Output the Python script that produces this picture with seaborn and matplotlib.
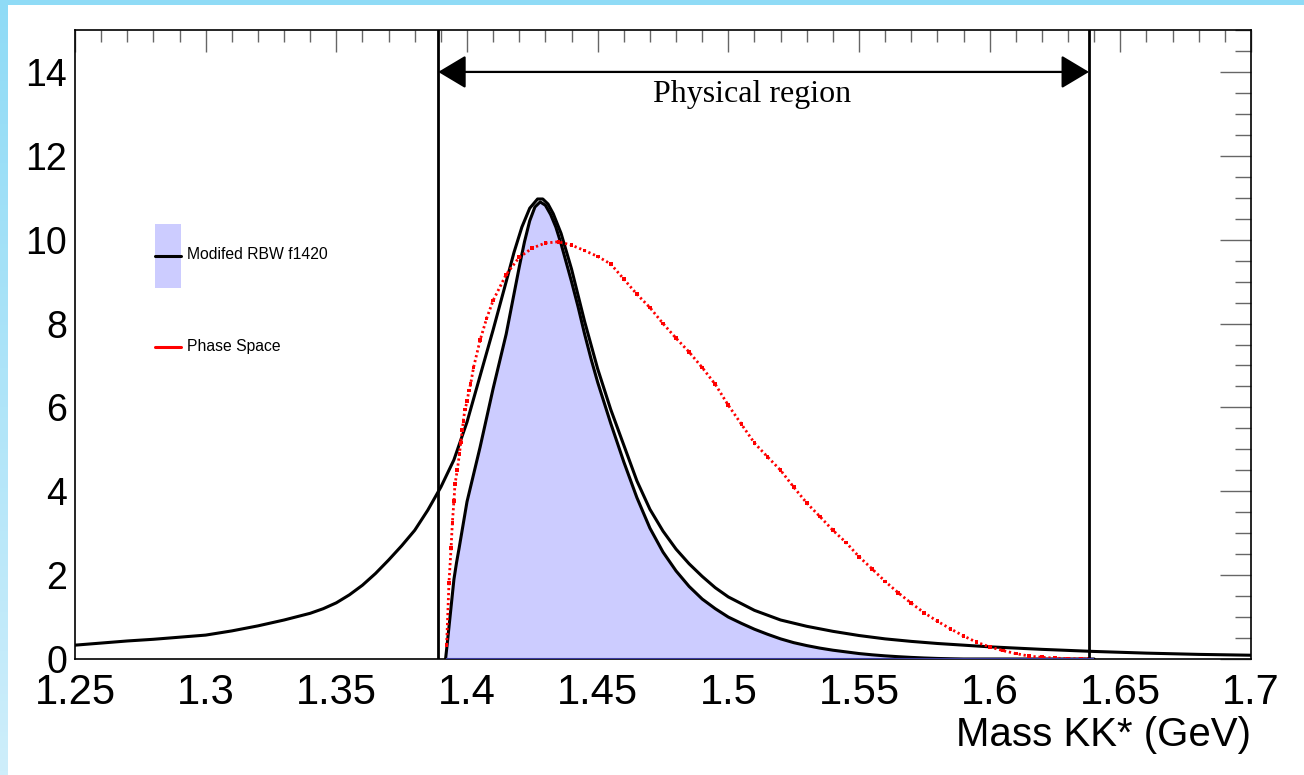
import numpy as np
import pandas as pd
import matplotlib
matplotlib.use("Agg")
import matplotlib.pyplot as plt
import seaborn as sns
from matplotlib.patches import Patch, Rectangle
from matplotlib.lines import Line2D
from matplotlib.legend_handler import HandlerTuple, HandlerLine2D
from matplotlib.ticker import MultipleLocator, FixedLocator

# full relativistic BW curve (whole mass range)
full_mass = [1.25, 1.26, 1.27, 1.28, 1.29, 1.30, 1.31, 1.32, 1.33, 1.34, 1.345, 1.35,
             1.355, 1.36, 1.365, 1.37, 1.375, 1.38, 1.385, 1.39, 1.395, 1.40, 1.405,
             1.41, 1.415, 1.418, 1.421, 1.424, 1.427, 1.429, 1.431, 1.433, 1.436,
             1.44, 1.445, 1.45, 1.455, 1.46, 1.465, 1.47, 1.475, 1.48, 1.485, 1.49,
             1.495, 1.50, 1.51, 1.52, 1.53, 1.54, 1.55, 1.56, 1.57, 1.58, 1.59,
             1.60, 1.62, 1.64, 1.66, 1.68, 1.70]
full_val = [0.33, 0.38, 0.43, 0.47, 0.52, 0.57, 0.67, 0.79, 0.93, 1.09, 1.20, 1.34,
            1.53, 1.76, 2.04, 2.36, 2.70, 3.07, 3.55, 4.10, 4.75, 5.65, 6.75,
            7.85, 9.00, 9.70, 10.30, 10.75, 10.97, 10.97, 10.85, 10.62, 10.15,
            9.30, 8.05, 6.92, 5.95, 5.10, 4.25, 3.57, 3.05, 2.62, 2.27, 1.97,
            1.70, 1.48, 1.16, 0.93, 0.78, 0.66, 0.56, 0.48, 0.42, 0.37, 0.33,
            0.29, 0.23, 0.18, 0.14, 0.11, 0.09]

# modified RBW f1420 (physical region only, shaded)
fit_mass = [1.3918, 1.3925, 1.393, 1.394, 1.395, 1.396, 1.397, 1.3985, 1.400, 1.4025,
            1.405, 1.4075, 1.410, 1.4125, 1.415, 1.4175, 1.420, 1.422, 1.424, 1.426,
            1.428, 1.430, 1.432, 1.434, 1.436, 1.438, 1.440, 1.4425, 1.445, 1.4475,
            1.450, 1.455, 1.460, 1.465, 1.470, 1.475, 1.480, 1.485, 1.490, 1.495,
            1.500, 1.505, 1.510, 1.515, 1.520, 1.525, 1.530, 1.535, 1.540, 1.545,
            1.550, 1.555, 1.560, 1.565, 1.570, 1.575, 1.580, 1.585, 1.590, 1.640]
fit_val = [0.0, 0.4, 0.7, 1.3, 1.9, 2.3, 2.65, 3.2, 3.75, 4.4,
           5.05, 5.75, 6.45, 7.1, 7.75, 8.55, 9.35, 9.95, 10.45, 10.78,
           10.9, 10.82, 10.6, 10.3, 9.9, 9.45, 9.0, 8.4, 7.75, 7.15,
           6.6, 5.62, 4.7, 3.85, 3.12, 2.55, 2.1, 1.73, 1.43, 1.2,
           1.0, 0.85, 0.71, 0.59, 0.48, 0.39, 0.32, 0.26, 0.21, 0.17,
           0.13, 0.10, 0.075, 0.055, 0.038, 0.024, 0.013, 0.006, 0.0, 0.0]

# phase space
ps_mass = [1.3922, 1.3931, 1.3939, 1.3944, 1.3950, 1.3954, 1.3963, 1.3971, 1.3976,
           1.3982, 1.3986, 1.3992, 1.4001, 1.4007, 1.4014, 1.4025, 1.405, 1.4075,
           1.410, 1.415, 1.420, 1.425, 1.430, 1.435, 1.440, 1.445, 1.450, 1.455,
           1.460, 1.465, 1.470, 1.475, 1.480, 1.485, 1.490, 1.495, 1.500, 1.505,
           1.510, 1.515, 1.520, 1.525, 1.530, 1.535, 1.540, 1.545, 1.550, 1.555,
           1.560, 1.565, 1.570, 1.575, 1.580, 1.585, 1.590, 1.595, 1.600, 1.605,
           1.610, 1.615, 1.620, 1.625, 1.630, 1.635, 1.638]
ps_val = [0.33, 1.82, 2.64, 3.25, 3.77, 4.17, 4.51, 4.89, 5.16,
          5.46, 5.68, 5.95, 6.15, 6.40, 6.56, 6.95, 7.60, 8.12,
          8.55, 9.17, 9.58, 9.80, 9.92, 9.95, 9.87, 9.74, 9.60, 9.42,
          9.06, 8.70, 8.38, 8.00, 7.65, 7.32, 6.95, 6.55, 6.05, 5.60,
          5.15, 4.82, 4.50, 4.10, 3.72, 3.40, 3.07, 2.78, 2.44, 2.15,
          1.85, 1.58, 1.33, 1.10, 0.90, 0.72, 0.55, 0.40, 0.29, 0.20,
          0.13, 0.07, 0.04, 0.02, 0.01, 0.005, 0.0]

phys_low, phys_high = 1.389, 1.638
x_ticks = [1.25, 1.3, 1.35, 1.4, 1.45, 1.5, 1.55, 1.6, 1.65, 1.7]
x_labels = ["1.25", "1.3", "1.35", "1.4", "1.45", "1.5", "1.55", "1.6", "1.65", "1.7"]
y_ticks = [0, 2, 4, 6, 8, 10, 12, 14]

sns.set_theme(style="white")
plt.rcParams['font.family'] = ['Liberation Sans', 'DejaVu Sans']
plt.rcParams['text.color'] = 'black'
plt.rcParams['axes.labelcolor'] = 'black'


class CenteredLine(HandlerLine2D):
    # put the legend line in the middle of a tall handle box
    def create_artists(self, legend, orig_handle, xdescent, ydescent,
                       width, height, fontsize, trans):
        arts = super().create_artists(legend, orig_handle, xdescent, ydescent,
                                      width, height, fontsize, trans)
        for a in arts:
            a.set_ydata(np.full(len(a.get_xdata()), height / 2 - ydescent))
        return arts


W, H = 1304, 775
fig = plt.figure(figsize=(W / 100, H / 100), dpi=100)
fig.patch.set_facecolor("white")

# light blue frame of the screenshot
bg = fig.add_axes([0, 0, 1, 1], zorder=-10)
bg.axis("off")
top_c = np.array([143, 219, 246]) / 255
bot_c = np.array([206, 238, 251]) / 255
t = np.linspace(0, 1, 200)[:, None]
grad = (top_c[None, :] * (1 - t) + bot_c[None, :] * t)[:, None, :]
bg.imshow(grad, extent=(0, 8, H, 0), aspect="auto")
bg.add_patch(Rectangle((0, 0), W, 5, color=top_c, lw=0))
bg.set_xlim(0, W)
bg.set_ylim(H, 0)

ax = fig.add_axes([75 / W, 1 - 659 / H, 1176 / W, 629 / H])
ax.set_facecolor("white")

full = pd.DataFrame({"mass": full_mass, "val": full_val})
fit = pd.DataFrame({"mass": fit_mass, "val": fit_val})
ps = pd.DataFrame({"mass": ps_mass, "val": ps_val})

ax.fill_between(fit["mass"], fit["val"], color="#ccccff", lw=0, zorder=1)
ax.hlines(0, fit_mass[0], fit_mass[-1], color="#3a3aa0", lw=1.5, zorder=6)
sns.lineplot(data=full, x="mass", y="val", color="black", lw=2.2, ax=ax, zorder=3)
sns.lineplot(data=fit, x="mass", y="val", color="black", lw=2.2, ax=ax, zorder=3)
sns.lineplot(data=ps, x="mass", y="val", color="red", lw=2.0,
             linestyle=(0, (0.8, 1.0)), ax=ax, zorder=4)
sns.scatterplot(data=ps, x="mass", y="val", color="red", marker="s", s=7,
                edgecolor="none", ax=ax, zorder=4)

# physical region
ax.axvline(phys_low, color="black", lw=2.0, zorder=5)
ax.axvline(phys_high, color="black", lw=2.0, zorder=5)
ax.annotate("", xy=(phys_low, 14), xytext=(phys_high, 14),
            arrowprops=dict(arrowstyle="<|-|>,head_length=0.87,head_width=0.52",
                            mutation_scale=20, lw=1.6, color="black",
                            shrinkA=0, shrinkB=0), zorder=6)
ax.text(1.509, 13.45, "Physical region", ha="center", va="center", color="black",
        fontsize=23, family=["Liberation Serif", "DejaVu Serif"])

ax.set_xlim(1.25, 1.7)
ax.set_ylim(0, 15)
ax.xaxis.set_major_locator(FixedLocator(x_ticks))
ax.set_xticklabels(x_labels)
ax.xaxis.set_minor_locator(MultipleLocator(0.01))
ax.set_yticks(y_ticks)
ax.yaxis.set_minor_locator(MultipleLocator(0.5))

ax.tick_params(which="both", direction="in", top=True, right=True,
               color="#666666", width=1.0, labelcolor="black")
ax.tick_params(axis="x", which="major", length=15.6, labelsize=30, pad=10)
ax.tick_params(axis="x", which="minor", length=8.4)
ax.tick_params(axis="y", which="major", length=22, labelsize=27, pad=5.5)
ax.tick_params(axis="y", which="minor", length=11.3)
for s in ax.spines.values():
    s.set_color("black")
    s.set_linewidth(1.2)

ax.set_xlabel("Mass KK* (GeV)", fontsize=29, loc="right", labelpad=2.5)
ax.set_ylabel("")

h1 = (Patch(facecolor="#ccccff", edgecolor="none"), Line2D([], [], color="black", lw=2.2))
h2 = Line2D([], [], color="red", lw=2.2)
ax.legend([h1, h2], ["Modifed RBW f1420", "Phase Space"],
          handler_map={tuple: HandlerTuple(ndivide=1, pad=0),
                       Line2D: CenteredLine()},
          loc="upper left", bbox_to_anchor=(155 / W, 1 - 224 / H),
          bbox_transform=fig.transFigure, frameon=False, borderpad=0,
          borderaxespad=0, handlelength=1.63, handleheight=5.87,
          handletextpad=0.4, labelspacing=1.77, fontsize=11.3)

fig.savefig("out.png", dpi=100)
